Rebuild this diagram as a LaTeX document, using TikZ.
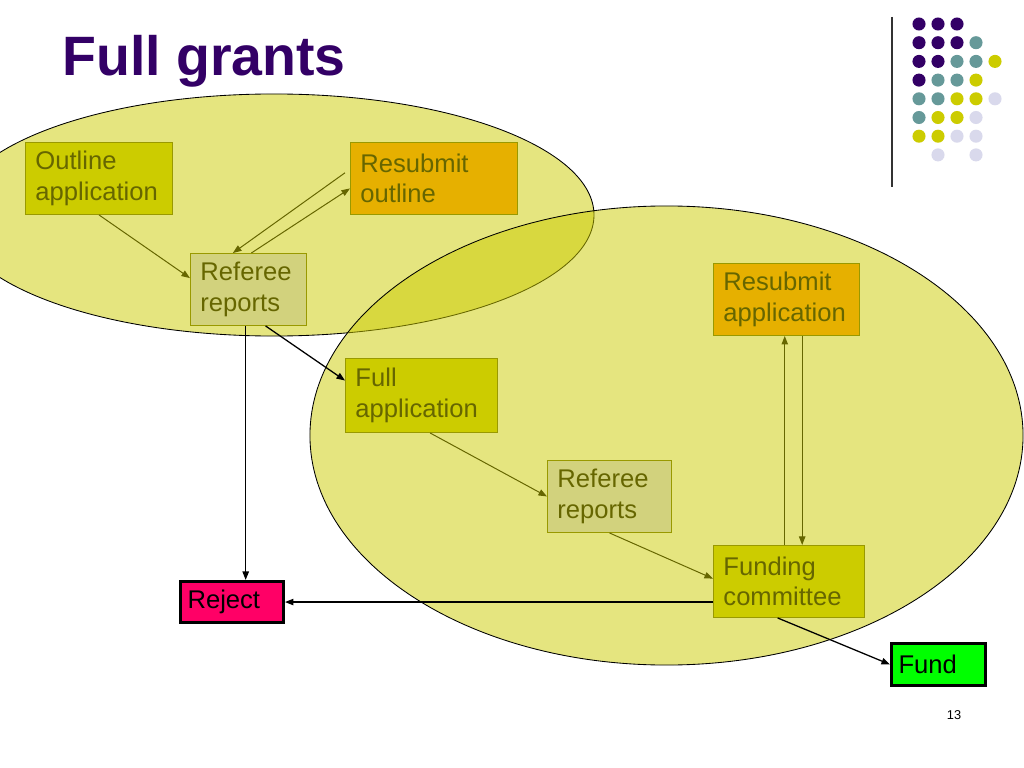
\documentclass[tikz,border=0pt]{standalone}
\usepackage{fontspec}
\setmainfont{Liberation Sans}
\usetikzlibrary{arrows.meta}
\definecolor{olivebox}{RGB}{204,204,0}
\definecolor{olivetext}{RGB}{102,102,0}
\definecolor{oliveline}{RGB}{153,153,0}
\definecolor{refbox}{RGB}{210,210,125}
\definecolor{orangebox}{RGB}{230,176,0}
\definecolor{titlepurple}{RGB}{51,0,102}
\definecolor{dotteal}{RGB}{102,153,153}
\definecolor{dotlilac}{RGB}{217,217,236}
\definecolor{rejectred}{RGB}{255,0,102}
\definecolor{fundgreen}{RGB}{0,255,0}
\begin{document}
\begin{tikzpicture}[x=0.703125pt,y=-0.703125pt,
  zone/.style={draw=black, line width=0.6pt, fill=olivebox, fill opacity=0.5},
  stage/.style={draw=oliveline, line width=0.7pt, anchor=north west, align=left, text=olivetext, inner xsep=7pt, minimum height=50.6pt, font=\fontsize{18}{21.6}\selectfont},
  outcome/.style={draw=black, line width=2pt, anchor=north west, align=left, inner xsep=5pt, font=\fontsize{18}{21.6}\selectfont},
  flow/.style={draw=olivetext, line width=0.7pt, -{Triangle[length=6pt,width=4.5pt]}},
  decision/.style={draw=black, line width=0.9pt, -{Triangle[length=6pt,width=4.5pt]}}]
\useasboundingbox[fill=white] (0,0) rectangle (1024,768);

\node[anchor=base west, inner sep=0pt, text=titlepurple, font=\fontsize{39}{47}\selectfont\bfseries] (title) at (62,76) {Full grants};

\foreach \col/\row/\tone in {0/0/titlepurple, 1/0/titlepurple, 2/0/titlepurple,
  0/1/titlepurple, 1/1/titlepurple, 2/1/titlepurple, 3/1/dotteal,
  0/2/titlepurple, 1/2/titlepurple, 2/2/dotteal, 3/2/dotteal, 4/2/olivebox,
  0/3/titlepurple, 1/3/dotteal, 2/3/dotteal, 3/3/olivebox,
  0/4/dotteal, 1/4/dotteal, 2/4/olivebox, 3/4/olivebox, 4/4/dotlilac,
  0/5/dotteal, 1/5/olivebox, 2/5/olivebox, 3/5/dotlilac,
  0/6/olivebox, 1/6/olivebox, 2/6/dotlilac, 3/6/dotlilac,
  1/7/dotlilac, 3/7/dotlilac}
  \fill[\tone] (919+19*\col, 24+18.7*\row) circle [radius=4.6pt];
\draw[line width=0.8pt, black!80] (892,17) -- (892,187);

\draw[zone] (274,215) ellipse [x radius=225pt, y radius=85.1pt];
\draw[zone] (666.5,435.5) ellipse [x radius=250.7pt, y radius=161.4pt];

\node[stage, fill=olivebox, text width=89.4pt] (outline) at (25,142) {Outline\\application};
\node[stage, fill=orangebox, text width=103.4pt] (rsout) at (350,142) {Resubmit\\outline};
\node[stage, fill=refbox, text width=67.6pt] (ref1) at (190,253) {Referee\\reports};
\node[stage, fill=olivebox, text width=92.9pt, minimum height=52pt] (full) at (345,358) {Full\\application};
\node[stage, fill=refbox, text width=73.2pt] (ref2) at (547,460) {Referee\\reports};
\node[stage, fill=orangebox, text width=88.7pt] (ra) at (713,263) {Resubmit\\application};
\node[stage, fill=olivebox, text width=92.2pt] (fc) at (713,545) {Funding\\committee};
\node[outcome, fill=rejectred, text width=62.5pt, minimum height=29pt] (rej) at (179,580) {Reject};
\node[outcome, fill=fundgreen, text width=56.2pt, minimum height=29.6pt] (fund) at (890,642) {Fund};

\node[font=\fontsize{9}{11}\selectfont] (pagenum) at (954,715) {13};

\draw[flow] (outline.south) -- ([yshift=8pt]ref1.west);
\draw[flow] ([xshift=-3.5pt,yshift=4pt]rsout.west) -- ([xshift=-11pt]ref1.north);
\draw[flow] ([xshift=2pt]ref1.north) -- ([yshift=-7pt]rsout.west);
\draw[decision] ([xshift=12pt]ref1.south) -- ([yshift=10.5pt]full.west);
\coordinate (drop) at ([xshift=-2pt]ref1.south);
\draw[decision] (drop) -- (drop |- rej.north);
\draw[flow] ([xshift=6pt]full.south) -- (ref2.west);
\draw[flow] (ref2.south) -- ([yshift=2pt]fc.west);
\coordinate (up) at ([xshift=-3pt]fc.north);
\draw[flow] (up) -- (up |- ra.south);
\coordinate (down) at ([xshift=11pt]ra.south);
\draw[flow] (down) -- (down |- fc.north);
\draw[decision] (fc.west |- rej.east) -- (rej.east);
\draw[decision] ([xshift=-8pt]fc.south) -- (fund.west);

\end{tikzpicture}
\end{document}
